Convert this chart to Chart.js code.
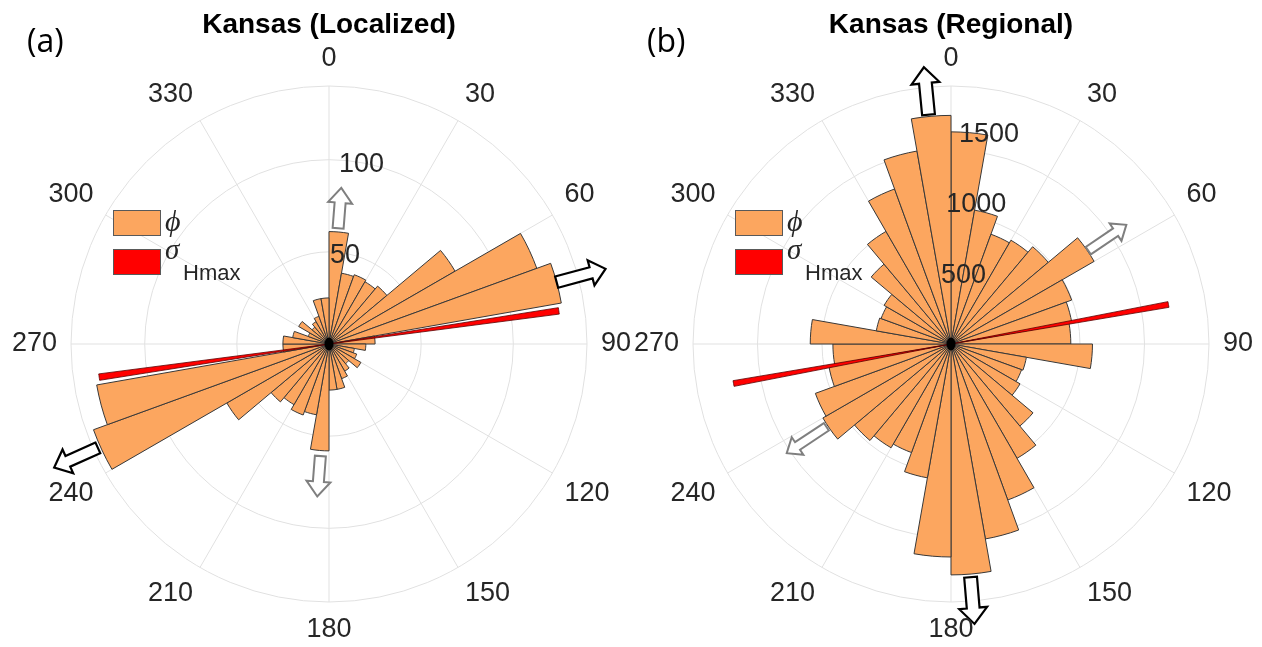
<!DOCTYPE html>
<html>
<head>
<meta charset="utf-8">
<script src="https://cdn.jsdelivr.net/npm/chart.js@4.4.1/dist/chart.umd.min.js"></script>
<style>
  html, body { margin: 0; padding: 0; background: #ffffff; }
  body { width: 1262px; height: 647px; position: relative; overflow: hidden; }
  .panel { position: absolute; top: 0; }
  .tag { position: absolute; top: 24px; font-family: "Open Sans", "Liberation Sans", sans-serif; font-size: 32px; line-height: 1; color: #000; }
</style>
</head>
<body>
<div class="panel" style="left:0px"><canvas id="rosePanelA" width="660" height="647"></canvas></div>
<div class="panel" style="left:600px"><canvas id="rosePanelB" width="662" height="647"></canvas></div>
<div class="tag" style="left:27px">(a)</div>
<div class="tag" style="left:647px">(b)</div>
<script>
// Azimuth tick labels (degrees clockwise from north)
const thetaTickLabels = ['0', '30', '60', '90', '120', '150', '180', '210', '240', '270', '300', '330'];

// 10-degree azimuth bins, 0-10, 10-20, ... 350-360
const localizedCounts = [
  61, 39, 40, 39, 41, 79, 120, 128, 25,
  20, 14, 16, 20, 14, 17, 20, 25, 25,
  58, 39, 41, 38, 41, 64, 136, 128, 25,
  25, 20, 12, 19, 12, 14, 16, 25, 25
];
const regionalCounts = [
  1480, 948, 815, 836, 886, 1153, 896, 856, 836,
  987, 534, 524, 556, 747, 921, 1158, 1381, 1611,
  1486, 948, 806, 836, 879, 1032, 1007, 866, 824,
  982, 529, 519, 539, 727, 907, 1151, 1367, 1595
];

// radial axis ticks and limits
const localizedRTicks = [50, 100];
const regionalRTicks = [500, 1000, 1500];
const localizedRMax = 140;
const regionalRMax = 1800;

// maximum horizontal stress: azimuth (deg), sector width (deg), length (counts)
const localizedSHmax = [81.8, 1.6, 126];
const regionalSHmax = [79.7, 1.5, 1542];

// principal directions: azimuth, start, end (counts), rank
const localizedArrowAz = [4.5, 184.4, 74.8, 245.8];
const localizedArrowFrom = [63, 61, 128, 137.5];
const localizedArrowTo = [85, 83, 155.5, 163.5];
const localizedArrowRank = ['minor', 'minor', 'major', 'major'];

const regionalArrowAz = [354.4, 175.2, 55.8, 236.4];
const regionalArrowFrom = [1608, 1633, 1158, 1044];
const regionalArrowTo = [1940, 1960, 1479, 1376];
const regionalArrowRank = ['major', 'major', 'minor', 'minor'];

const look = {
  orange: '#fca65f',
  edge: '#383838',
  red: '#ff0000',
  grid: '#e1e1e1',
  text: '#262626',
  sans: '"Liberation Sans", Arial, Helvetica, sans-serif',
  serif: '"Liberation Serif", "DejaVu Serif", serif'
};

function stressSectors(spec) {
  const [az, width, len] = spec;
  const a0 = az - width / 2;
  return {
    values: [0, len, 0, len, 0],
    spans: [a0, width, 180 - width, width, 360 - (a0 + 180 + width)]
  };
}

function drawBlockArrow(ctx, p0, p1, s) {
  const dx = p1.x - p0.x, dy = p1.y - p0.y;
  const len = Math.hypot(dx, dy);
  const ux = dx / len, uy = dy / len, nx = -uy, ny = ux;
  const bx = p1.x - ux * s.head, by = p1.y - uy * s.head;
  const pts = [
    [p0.x + nx * s.shaft, p0.y + ny * s.shaft],
    [bx + nx * s.shaft, by + ny * s.shaft],
    [bx + nx * s.wing, by + ny * s.wing],
    [p1.x, p1.y],
    [bx - nx * s.wing, by - ny * s.wing],
    [bx - nx * s.shaft, by - ny * s.shaft],
    [p0.x - nx * s.shaft, p0.y - ny * s.shaft]
  ];
  ctx.beginPath();
  pts.forEach((q, i) => (i ? ctx.lineTo(q[0], q[1]) : ctx.moveTo(q[0], q[1])));
  ctx.closePath();
  ctx.fillStyle = '#ffffff';
  ctx.fill();
  ctx.lineWidth = s.lw;
  ctx.strokeStyle = s.color;
  ctx.lineJoin = 'miter';
  ctx.stroke();
}

// Compass labels, radial tick values, direction arrows and legend for a rose panel
const compassDecor = {
  id: 'compassDecor',
  afterDatasetsDraw(chart, args, o) {
    const sc = chart.scales.r;
    const ctx = chart.ctx;
    const cx = sc.xCenter, cy = sc.yCenter, R = sc.drawingArea;
    const toRad = d => d * Math.PI / 180;
    const at = (az, dist) => ({ x: cx + dist * Math.sin(toRad(az)), y: cy - dist * Math.cos(toRad(az)) });
    ctx.save();

    // hub where all sector edges meet
    ctx.fillStyle = '#000000';
    ctx.beginPath();
    ctx.ellipse(cx, cy, 4.5, 6.5, 0, 0, Math.PI * 2);
    ctx.fill();

    // direction arrows
    o.arrowAz.forEach((az, i) => {
      const p0 = at(az, sc.getDistanceFromCenterForValue(o.arrowFrom[i]));
      const p1 = at(az, sc.getDistanceFromCenterForValue(o.arrowTo[i]));
      drawBlockArrow(ctx, p0, p1, o.arrowStyles[o.arrowRank[i]]);
    });

    // radial tick values along the 10 degree spoke
    ctx.font = '27px ' + look.sans;
    ctx.fillStyle = look.text;
    ctx.textAlign = 'center';
    ctx.textBaseline = 'middle';
    o.rTicks.forEach(v => {
      const p = at(10.3, sc.getDistanceFromCenterForValue(v) - 2);
      ctx.fillText(String(v), p.x, p.y);
    });

    // azimuth labels around the rim
    chart.data.labels.forEach((lab, i) => {
      const a = Math.round(sc.getIndexAngle(i) * 180 / Math.PI) % 360;
      const p = at(a, R + 14);
      ctx.textAlign = (a === 0 || a === 180) ? 'center' : (a < 180 ? 'left' : 'right');
      ctx.textBaseline = (a === 90 || a === 270) ? 'middle' : ((a < 90 || a > 270) ? 'bottom' : 'top');
      ctx.fillText(lab, p.x, p.y);
    });

    // legend
    const lx = cx - 216;
    ctx.lineWidth = 1;
    ctx.strokeStyle = '#595959';
    ctx.fillStyle = look.orange;
    ctx.fillRect(lx, cy - 134, 47, 25);
    ctx.strokeRect(lx + 0.5, cy - 133.5, 47, 25);
    ctx.fillStyle = look.red;
    ctx.fillRect(lx, cy - 95, 47, 25);
    ctx.strokeRect(lx + 0.5, cy - 94.5, 47, 25);
    ctx.fillStyle = look.text;
    ctx.textAlign = 'left';
    ctx.textBaseline = 'middle';
    ctx.font = 'italic 30px ' + look.serif;
    ctx.fillText('\u03D5', lx + 52, cy - 121);
    ctx.font = 'italic 29px ' + look.serif;
    ctx.fillText('\u03C3', lx + 52, cy - 93);
    ctx.font = '22px ' + look.sans;
    ctx.textBaseline = 'alphabetic';
    ctx.fillText('Hmax', lx + 70, cy - 64);

    ctx.restore();
  }
};

function buildRose(canvasId, cfg) {
  const sectors = stressSectors(cfg.sHmax);
  return new Chart(document.getElementById(canvasId), {
    type: 'polarArea',
    data: {
      labels: thetaTickLabels,
      datasets: [
        {
          label: 'phi',
          data: cfg.counts,
          backgroundColor: look.orange,
          borderColor: look.edge,
          borderWidth: 1,
          order: 1
        },
        {
          label: 'sigma Hmax',
          data: sectors.values,
          angle: ctx => sectors.spans[ctx.dataIndex],
          backgroundColor: ctx => (ctx.dataIndex % 2 ? look.red : 'rgba(0,0,0,0)'),
          borderColor: '#5a0000',
          borderWidth: ctx => (ctx.dataIndex % 2 ? 0.8 : 0),
          order: 0
        }
      ]
    },
    options: {
      responsive: false,
      animation: false,
      events: [],
      layout: { padding: cfg.padding },
      scales: {
        r: {
          min: 0,
          max: cfg.rMax,
          startAngle: 0,
          ticks: { display: false, stepSize: cfg.rTicks[0] },
          grid: { circular: true, color: look.grid, lineWidth: 1 },
          angleLines: { display: true, color: look.grid, lineWidth: 1 },
          pointLabels: { display: false }
        }
      },
      plugins: {
        legend: { display: false },
        tooltip: { enabled: false },
        title: {
          display: true,
          text: cfg.title,
          color: '#000000',
          font: { family: look.sans, size: 28, weight: 'bold', lineHeight: 1.2 },
          padding: { top: 8, bottom: 44.4 }
        },
        compassDecor: {
          rTicks: cfg.rTicks,
          arrowAz: cfg.arrowAz,
          arrowFrom: cfg.arrowFrom,
          arrowTo: cfg.arrowTo,
          arrowRank: cfg.arrowRank,
          arrowStyles: cfg.arrowStyles
        }
      }
    },
    plugins: [compassDecor]
  });
}

buildRose('rosePanelA', {
  title: 'Kansas (Localized)',
  counts: localizedCounts,
  rTicks: localizedRTicks,
  rMax: localizedRMax,
  sHmax: localizedSHmax,
  arrowAz: localizedArrowAz,
  arrowFrom: localizedArrowFrom,
  arrowTo: localizedArrowTo,
  arrowRank: localizedArrowRank,
  arrowStyles: {
    major: { color: '#000000', lw: 2.2, shaft: 5.8, wing: 13, head: 15 },
    minor: { color: '#7f7f7f', lw: 2, shaft: 5.5, wing: 12, head: 15 }
  },
  padding: { left: 71, right: 73, top: 0, bottom: 45 }
});

buildRose('rosePanelB', {
  title: 'Kansas (Regional)',
  counts: regionalCounts,
  rTicks: regionalRTicks,
  rMax: regionalRMax,
  sHmax: regionalSHmax,
  arrowAz: regionalArrowAz,
  arrowFrom: regionalArrowFrom,
  arrowTo: regionalArrowTo,
  arrowRank: regionalArrowRank,
  arrowStyles: {
    major: { color: '#000000', lw: 2.2, shaft: 6.4, wing: 14, head: 16 },
    minor: { color: '#7f7f7f', lw: 2, shaft: 4.5, wing: 10.5, head: 13 }
  },
  padding: { left: 93, right: 53, top: 0, bottom: 45 }
});
</script>
</body>
</html>
